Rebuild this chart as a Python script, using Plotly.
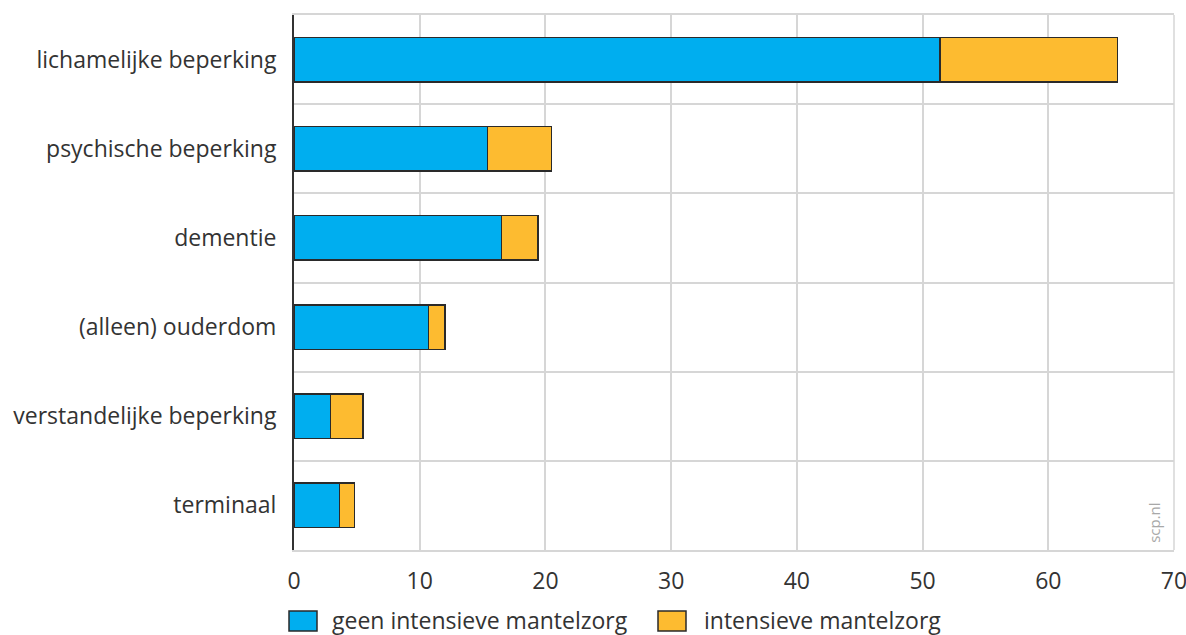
import plotly.graph_objects as go

categories = ["lichamelijke beperking", "psychische beperking", "dementie",
              "(alleen) ouderdom", "verstandelijke beperking", "terminaal"]
geen_intensief = [51.4, 15.4, 16.5, 10.7, 2.9, 3.6]
intensief = [14.1, 5.1, 2.9, 1.3, 2.6, 1.2]
series_names = ["geen intensieve mantelzorg", "intensieve mantelzorg"]
x_ticks = [0, 10, 20, 30, 40, 50, 60, 70]

BLUE = "#00AEEF"
YELLOW = "#FDBB30"
COLORS = [BLUE, YELLOW]
EDGE = "#2a2a2a"
GRID = "#d6d6d6"
FONT = "Open Sans"
TXT = "#333333"
FS = 23

n = len(categories)
ypos = [n - 1 - i for i in range(n)]

fig = go.Figure()
for vals, col, name in zip([geen_intensief, intensief], COLORS, series_names):
    fig.add_trace(go.Bar(
        x=vals, y=ypos, orientation="h", name=name,
        marker=dict(color=col, line=dict(color=EDGE, width=1.5)),
        width=0.5, showlegend=False,
    ))

# manual legend (rectangular swatches like the original)
legend_offsets = [(-5, 37), (364, 409)]  # (swatch left, text left) in px from plot left
shapes = [dict(type="line", xref="paper", yref="paper", x0=1, x1=1, y0=0, y1=1,
               line=dict(color=GRID, width=1.5), layer="below")]
for (sx, tx), col, name in zip(legend_offsets, COLORS, series_names):
    shapes.append(dict(type="rect", xref="paper", yref="paper",
                       xsizemode="pixel", ysizemode="pixel", xanchor=0, yanchor=0,
                       x0=sx, x1=sx + 28, y0=-81, y1=-61,
                       fillcolor=col, line=dict(color=EDGE, width=1.5)))
    fig.add_annotation(text=name, xref="paper", yref="paper", x=0, y=0,
                       xshift=tx, yshift=-70, xanchor="left", yanchor="middle",
                       borderpad=0, showarrow=False,
                       font=dict(family=FONT, size=FS, color=TXT))

fig.update_layout(
    barmode="stack",
    width=1186, height=635,
    margin=dict(l=294, r=12, t=15, b=85, autoexpand=False),
    plot_bgcolor="white", paper_bgcolor="white",
    font=dict(family=FONT, size=FS, color=TXT),
    showlegend=False,
    xaxis=dict(range=[0, 70], tickvals=x_ticks, showgrid=True,
               gridcolor=GRID, gridwidth=1.5, zeroline=False,
               showline=True, linecolor=GRID, linewidth=1.5, mirror=True,
               ticks="", ticklabelstandoff=10, automargin=False,
               ticklabeloverflow="allow",
               tickfont=dict(size=FS, color=TXT)),
    yaxis=dict(range=[-0.5, n - 0.5], tickvals=ypos, ticktext=categories,
               showgrid=False, zeroline=False,
               showline=True, linecolor="#333333", linewidth=2,
               ticks="", ticklabelstandoff=11, automargin=False,
               ticklabeloverflow="allow",
               tickfont=dict(size=FS, color=TXT),
               minor=dict(tickmode="linear", tick0=0.5, dtick=1, showgrid=True,
                          gridcolor=GRID, gridwidth=1.5, ticks="")),
    shapes=shapes,
)

fig.add_annotation(text="scp.nl", xref="paper", yref="paper", x=0.99, y=0.01,
                   xanchor="right", yanchor="bottom", textangle=-90,
                   showarrow=False, font=dict(family=FONT, size=15, color="#a8a8a8"))

fig.write_html("out.html", config={"displayModeBar": False},
               post_script="document.body.style.margin='0';document.body.style.overflow='hidden';")
